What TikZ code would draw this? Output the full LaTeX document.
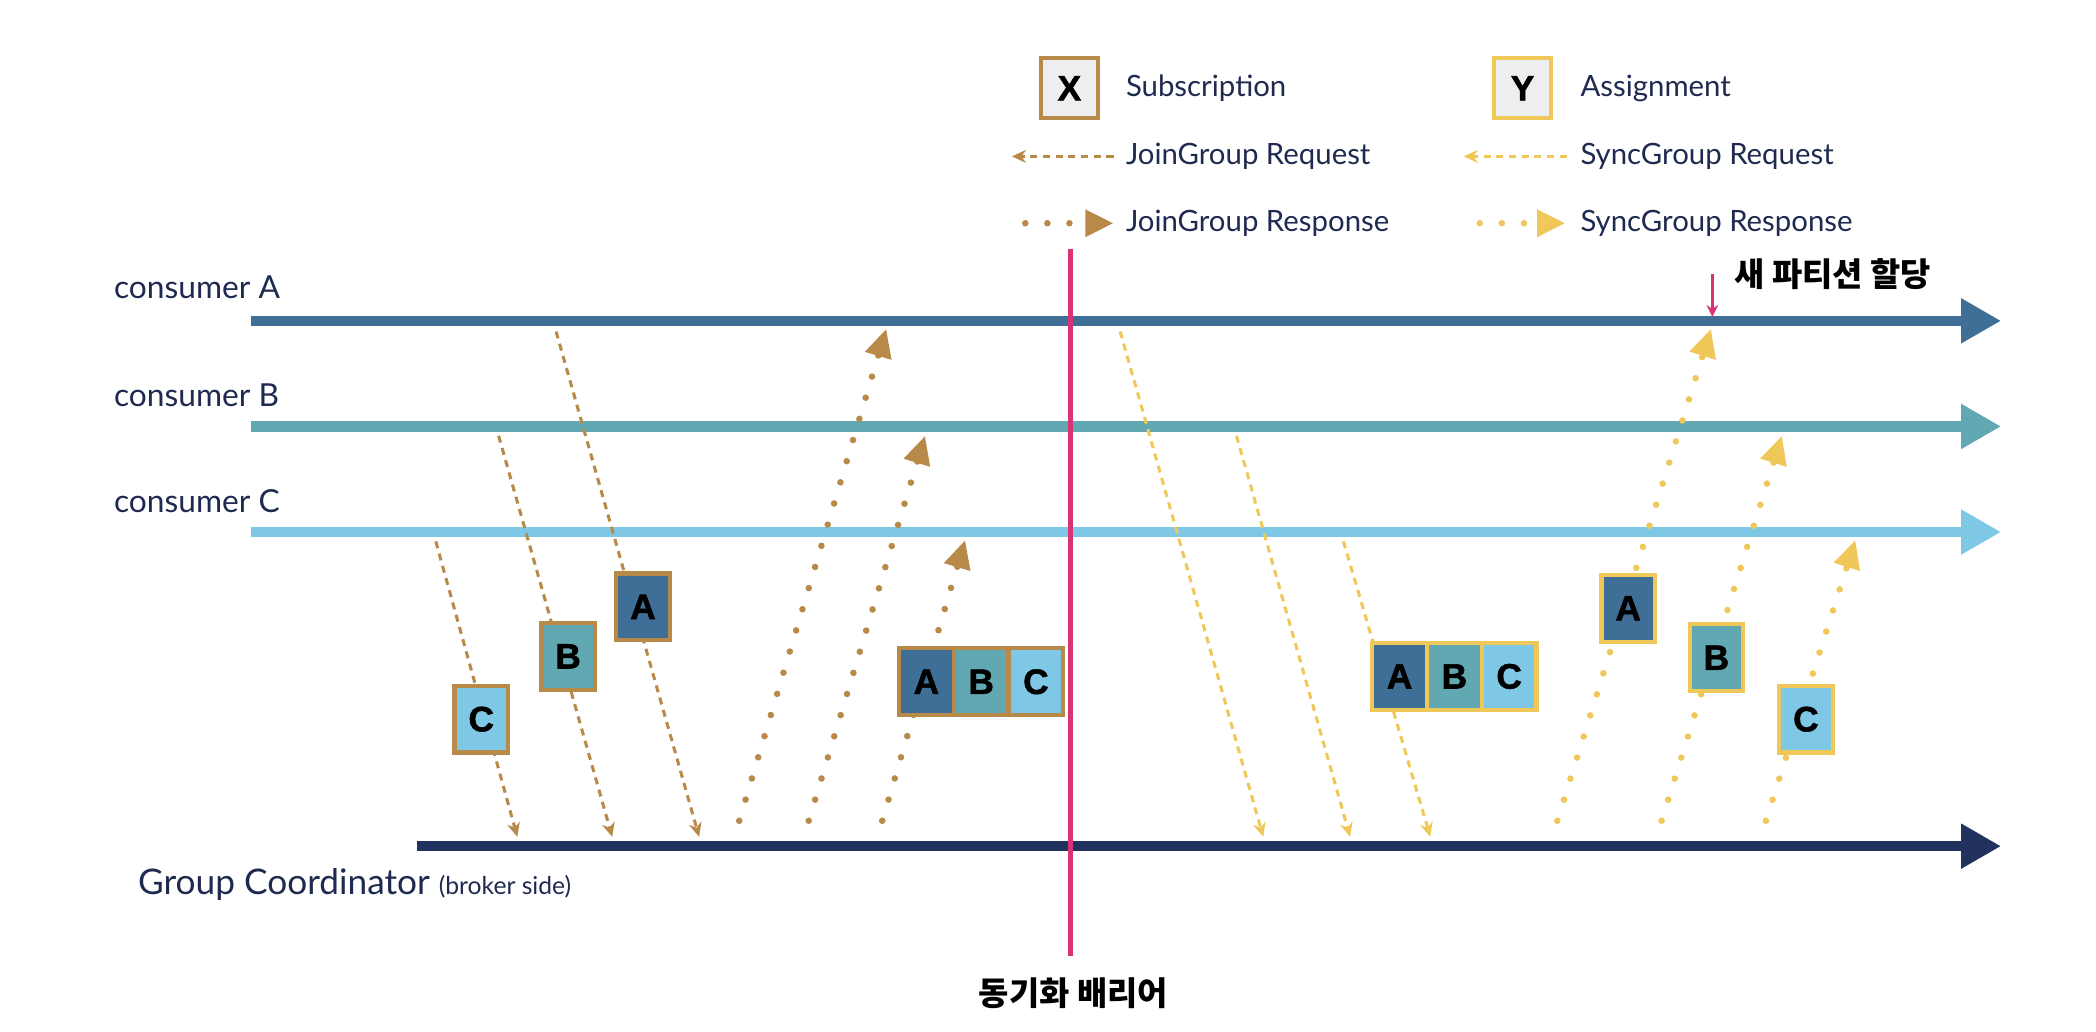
\documentclass[tikz,border=0pt]{standalone}
\usepackage{fontspec}
\setmainfont{Lato}
\newfontfamily\boxfont{Liberation Sans}[BoldFeatures={FakeBold=1.6}]
\newfontfamily\krfont{Noto Sans CJK KR}
\usetikzlibrary{arrows.meta, positioning}
\definecolor{cA}{HTML}{3F6E97}
\definecolor{cB}{HTML}{62A8B3}
\definecolor{cC}{HTML}{7EC8E6}
\definecolor{cgc}{HTML}{22325E}
\definecolor{cbrown}{HTML}{B88A4A}
\definecolor{cyellow}{HTML}{F0C85A}
\definecolor{cbar}{HTML}{D93275}
\definecolor{ctext}{HTML}{1F2A50}
\definecolor{ckey}{HTML}{EEEEF0}
\tikzset{
  lane/.style={draw=#1, line width=4.5pt, -{Triangle[length=17pt, width=18pt]}},
  req/.style={draw=#1, line width=1.3pt, dash pattern=on 3pt off 2.4pt, -{Stealth[length=6pt, width=5.5pt]}},
  resp/.style={draw=#1, line width=2.8pt, line cap=round, dash pattern=on 0pt off 9.4pt, -{Triangle[length=12pt, width=11pt]}},
  letter/.style={draw=#1, line width=1.8pt, minimum width=0.8cm, minimum height=1cm, inner sep=0pt, outer sep=0pt, font=\boxfont\bfseries\fontsize{15}{15}\selectfont},
  lbl/.style={text=ctext, font=\fontsize{13.5}{16}\selectfont, anchor=west, inner sep=0pt},
  legend/.style={text=ctext, font=\fontsize{12.5}{15}\selectfont, anchor=west, inner sep=0pt},
  kr/.style={font=\krfont\bfseries\fontsize{14}{16}\selectfont, inner sep=0pt},
  barrier/.style={draw=cbar, line width=2.2pt},
}
\begin{document}
\begin{tikzpicture}[x=0.02cm, y=-0.02cm]
  \useasboundingbox (0,0) rectangle (1568,772);
  % lanes
  \coordinate (A-s) at (188,240); \coordinate (A-e) at (1497,240);
  \coordinate (B-s) at (188,319); \coordinate (B-e) at (1497,319);
  \coordinate (C-s) at (188,398); \coordinate (C-e) at (1497,398);
  \coordinate (G-s) at (312,633); \coordinate (G-e) at (1497,633);
  \draw[lane=cA] (A-s) -- (A-e);
  \draw[lane=cB] (B-s) -- (B-e);
  \draw[lane=cC] (C-s) -- (C-e);
  \draw[lane=cgc] (G-s) -- (G-e);
  \node[lbl] (lblA) at (85,215) {consumer A};
  \node[lbl] (lblB) at (85,296) {consumer B};
  \node[lbl] (lblC) at (85,375) {consumer C};
  \node[lbl, font=\fontsize{15}{17}\selectfont] (lblG) at (103,662) {Group Coordinator {\fontsize{10.5}{12}\selectfont(broker side)}};
  % legend
  \node[letter=cbrown, fill=ckey, minimum width=0.86cm, minimum height=0.9cm] (keyX) at (800,66) {X};
  \node[legend] (keyXt) at (842,66) {Subscription};
  \node[letter=cyellow, fill=ckey, minimum width=0.86cm, minimum height=0.9cm] (keyY) at (1139,66) {Y};
  \node[legend] (keyYt) at (1182,66) {Assignment};
  \coordinate (kjq-s) at (833,117); \coordinate (kjq-e) at (757,117);
  \coordinate (ksq-s) at (1172,117); \coordinate (ksq-e) at (1095,117);
  \coordinate (kjp-s) at (767,167); \coordinate (kjp-e) at (833,167);
  \coordinate (ksp-s) at (1107,167); \coordinate (ksp-e) at (1171,167);
  \draw[req=cbrown] (kjq-s) -- (kjq-e);
  \draw[req=cyellow] (ksq-s) -- (ksq-e);
  \draw[resp=cbrown] (kjp-s) -- (kjp-e);
  \draw[resp=cyellow] (ksp-s) -- (ksp-e);
  \node[legend] (kjqt) at (842,117) {JoinGroup Request};
  \node[legend] (ksqt) at (1182,117) {SyncGroup Request};
  \node[legend] (kjpt) at (842,167) {JoinGroup Response};
  \node[legend] (kspt) at (1182,167) {SyncGroup Response};
  % JoinGroup requests
  \coordinate (jq1-s) at (326,405); \coordinate (jq1-e) at (387,626);
  \coordinate (jq2-s) at (373,326); \coordinate (jq2-e) at (458,626);
  \coordinate (jq3-s) at (416,248); \coordinate (jq3-e) at (523,626);
  \draw[req=cbrown] (jq1-s) -- (jq1-e);
  \draw[req=cbrown] (jq2-s) -- (jq2-e);
  \draw[req=cbrown] (jq3-s) -- (jq3-e);
  \node[letter=cbrown, fill=cC] (subC) at (360,538) {C};
  \node[letter=cbrown, fill=cB] (subB) at (425,491) {B};
  \node[letter=cbrown, fill=cA] (subA) at (481,454) {A};
  % JoinGroup responses
  \coordinate (jp1-s) at (553,614); \coordinate (jp1-e) at (663,246);
  \coordinate (jp2-s) at (605,614); \coordinate (jp2-e) at (692,326);
  \coordinate (jp3-s) at (660,614); \coordinate (jp3-e) at (722,404);
  \draw[resp=cbrown] (jp1-s) -- (jp1-e);
  \draw[resp=cbrown] (jp2-s) -- (jp2-e);
  \draw[resp=cbrown] (jp3-s) -- (jp3-e);
  \node[letter=cbrown, fill=cA, minimum width=0.82cm] (jallA) at (693,510) {A};
  \node[letter=cbrown, fill=cB, minimum width=0.82cm, right=0pt of jallA] (jallB) {B};
  \node[letter=cbrown, fill=cC, minimum width=0.82cm, right=0pt of jallB] (jallC) {C};
  % SyncGroup requests
  \coordinate (sq1-s) at (838,248); \coordinate (sq1-e) at (945,626);
  \coordinate (sq2-s) at (925,326); \coordinate (sq2-e) at (1010,626);
  \coordinate (sq3-s) at (1005,405); \coordinate (sq3-e) at (1070,626);
  \draw[req=cyellow] (sq1-s) -- (sq1-e);
  \draw[req=cyellow] (sq2-s) -- (sq2-e);
  \draw[req=cyellow] (sq3-s) -- (sq3-e);
  \node[letter=cyellow, fill=cA, minimum width=0.82cm] (sallA) at (1047,506) {A};
  \node[letter=cyellow, fill=cB, minimum width=0.82cm, right=0pt of sallA] (sallB) {B};
  \node[letter=cyellow, fill=cC, minimum width=0.82cm, right=0pt of sallB] (sallC) {C};
  % SyncGroup responses
  \coordinate (sp1-s) at (1165,614); \coordinate (sp1-e) at (1280,246);
  \coordinate (sp2-s) at (1243,614); \coordinate (sp2-e) at (1333,326);
  \coordinate (sp3-s) at (1321,614); \coordinate (sp3-e) at (1388,404);
  \draw[resp=cyellow] (sp1-s) -- (sp1-e);
  \draw[resp=cyellow] (sp2-s) -- (sp2-e);
  \draw[resp=cyellow] (sp3-s) -- (sp3-e);
  \node[letter=cyellow, fill=cA] (asgA) at (1218,455) {A};
  \node[letter=cyellow, fill=cB] (asgB) at (1284,492) {B};
  \node[letter=cyellow, fill=cC] (asgC) at (1351,538) {C};
  % barrier
  \coordinate (bar-t) at (801,186); \coordinate (bar-b) at (801,715);
  \draw[barrier] (bar-t) -- (bar-b);
  \node[kr] (barlbl) at (803,743) {동기화 배리어};
  % new assignment
  \coordinate (new-t) at (1281,205); \coordinate (new-b) at (1281,237);
  \draw[draw=cbar, line width=1.1pt, -{Stealth[length=5pt, width=5pt]}] (new-t) -- (new-b);
  \node[kr, anchor=west] (newlbl) at (1297,205) {새 파티션 할당};
\end{tikzpicture}
\end{document}
